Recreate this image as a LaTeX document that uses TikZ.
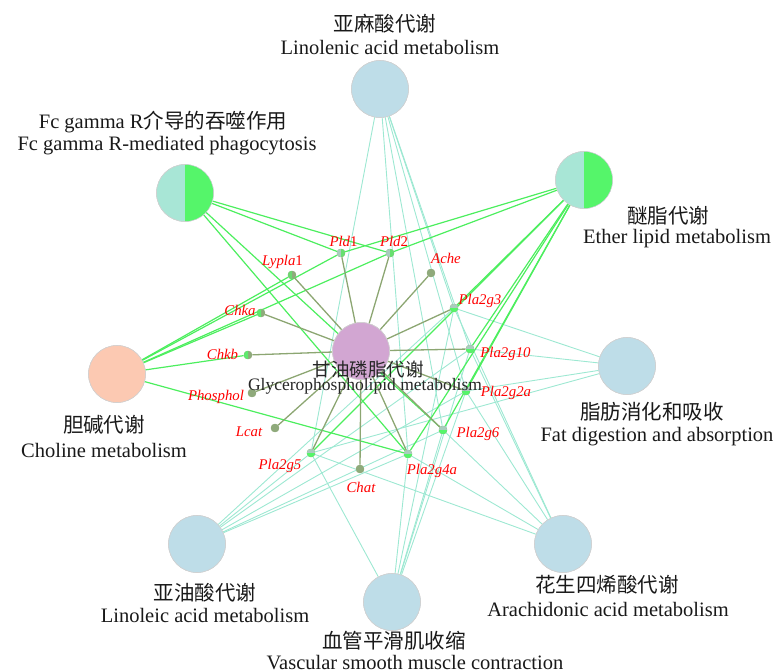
\documentclass[tikz,border=0pt]{standalone}
\usepackage{fontspec}
\setmainfont{Liberation Serif}
\newfontfamily\cjk{Noto Sans CJK SC}
\definecolor{pwblue}{HTML}{BEDDE8}
\definecolor{peach}{HTML}{FCC9B2}
\definecolor{plum}{HTML}{D2A6D2}
\definecolor{aqua}{HTML}{A8E6D6}
\definecolor{lgreen}{HTML}{55F56A}
\definecolor{olive}{HTML}{8FAA7B}
\definecolor{tgray}{HTML}{A9CCBE}
\definecolor{tealedge}{HTML}{9DE8D2}
\definecolor{greenedge}{HTML}{4CEE5E}
\definecolor{oliveedge}{HTML}{8CA672}
\newcommand\pwfs{\fontsize{20.5}{22}\selectfont}
\newcommand\cnfs{\fontsize{20.5}{22}\selectfont\cjk}
\newcommand\halfR[2]{\begin{scope}[shift={(#1.center)},yscale=-1]\fill[#2] (0,-4.2) arc[start angle=-90,end angle=90,radius=4.2] -- cycle;\end{scope}}
\newcommand\halfL[2]{\begin{scope}[shift={(#1.center)},yscale=-1]\fill[#2] (0,4.2) arc[start angle=90,end angle=270,radius=4.2] -- cycle;\end{scope}}
\newcommand\halfT[2]{\begin{scope}[shift={(#1.center)},yscale=-1]\fill[#2] (4.2,0) arc[start angle=0,end angle=180,radius=4.2] -- cycle;\end{scope}}
\newcommand\halfB[2]{\begin{scope}[shift={(#1.center)},yscale=-1]\fill[#2] (-4.2,0) arc[start angle=180,end angle=360,radius=4.2] -- cycle;\end{scope}}
\begin{document}
\begin{tikzpicture}[x=1pt,y=-1pt,
  pw/.style={circle, minimum size=57pt, inner sep=0pt, draw=black!18, line width=0.6pt, fill=pwblue},
  gene/.style={circle, minimum size=8.4pt, inner sep=0pt, fill=olive},
  glab/.style={text=red, font=\fontsize{14.8}{15}\selectfont\itshape, inner sep=0pt},
  plab/.style={font=\pwfs, inner sep=0pt, text=black!90},
  clab/.style={font=\cnfs, inner sep=0pt, text=black!90},
  te/.style={draw=tealedge, line width=0.9pt},
  ge/.style={draw=greenedge, line width=1.2pt},
  oe/.style={draw=oliveedge, line width=1.3pt}]
\useasboundingbox (0,0) rectangle (780,672);

% pathway nodes
\node[pw] (lin) at (380,89) {};
\node[pw, fill=aqua] (fc) at (185,193) {};
\node[pw, fill=aqua] (eth) at (584,180) {};
\node[pw, fill=peach] (cho) at (117,374) {};
\node[pw, fill=plum] (gly) at (361,351) {};
\node[pw] (fat) at (627,366) {};
\node[pw] (ara) at (563,544) {};
\node[pw] (lio) at (197,544) {};
\node[pw] (vas) at (392,602) {};

% gene nodes
\node[gene] (pldA) at (341,253) {};
\node[gene] (pldB) at (390,253) {};
\node[gene] (lypla) at (292,275) {};
\node[gene] (ache) at (431,273) {};
\node[gene] (gIII) at (454,308) {};
\node[gene] (chka) at (261,313) {};
\node[gene] (chkb) at (248,355) {};
\node[gene] (gX) at (470,349) {};
\node[gene] (phos) at (252,393) {};
\node[gene] (gIIa) at (466,391) {};
\node[gene] (gVI) at (443,430) {};
\node[gene] (lcat) at (275,428) {};
\node[gene] (gV) at (311,453) {};
\node[gene] (chat) at (360,469) {};
\node[gene] (gIVa) at (408,454) {};

% teal edges
\foreach \p in {lin,ara,lio,vas}
  \foreach \g in {gIII,gX,gIIa,gVI,gV,gIVa}
    \draw[te] (\p) -- (\g);
\foreach \g in {gIII,gX,gIIa,gV}
  \draw[te] (fat) -- (\g);

% green edges
\foreach \g in {pldA,pldB,gVI,gIVa}
  \draw[ge] (fc) -- (\g);
\foreach \g in {pldA,pldB,gIII,gX,gIIa,gVI,gV,gIVa}
  \draw[ge] (eth) -- (\g);
\foreach \g in {chka,chkb,lypla,pldA,pldB,gIVa}
  \draw[ge] (cho) -- (\g);

% olive edges to centre
\foreach \g in {pldA,pldB,lypla,ache,gIII,chka,chkb,gX,phos,gIIa,gVI,lcat,gV,chat,gIVa}
  \draw[oe] (gly) -- (\g);

% redraw nodes on top
\node[pw] at (lin) {};
\node[pw, fill=aqua] at (fc) {};
\node[pw, fill=aqua] at (eth) {};
\begin{scope}[shift={(fc.center)},yscale=-1]\fill[lgreen] (0,-28.2) arc[start angle=-90,end angle=90,radius=28.2] -- cycle;\end{scope}
\begin{scope}[shift={(eth.center)},yscale=-1]\fill[lgreen] (0,-28.2) arc[start angle=-90,end angle=90,radius=28.2] -- cycle;\end{scope}
\node[pw, fill=peach] at (cho) {};
\node[pw, fill=plum] at (gly) {};
\node[pw] at (fat) {};
\node[pw] at (ara) {};
\node[pw] at (lio) {};
\node[pw] at (vas) {};

\foreach \g in {pldA,pldB,lypla,ache,gIII,chka,chkb,gX,phos,gIIa,gVI,lcat,gV,chat,gIVa}
  \node[gene] at (\g) {};
\halfL{pldA}{tgray}\halfR{pldA}{lgreen!70!olive}
\halfL{pldB}{tgray}\halfR{pldB}{lgreen!70!olive}
\halfL{chka}{lgreen!85!olive}
\halfL{chkb}{lgreen!85!olive}
\halfL{lypla}{lgreen!60!olive}
\foreach \g in {gIII,gX,gIIa,gVI,gV,gIVa}{\halfT{\g}{tgray}\halfB{\g}{lgreen}}

% gene labels
\node[glab] (tpldA) at (343.5,241) {Pld\textup{1}};
\node[glab] (tpldB) at (394,241) {Pld\textup{2}};
\node[glab] (tlypla) at (282.5,262) {Lypla\textup{1}};
\node[glab] (tache) at (446,258) {Ache};
\node[glab] (tgIII) at (480,301) {Pla2g3};
\node[glab] (tchka) at (240,310) {Chka};
\node[glab] (tchkb) at (222.5,354.5) {Chkb};
\node[glab] (tgX) at (505.5,354) {Pla2g10};
\node[glab] (tphos) at (216,397) {Phosphol};
\node[glab] (tgIIa) at (506,392.5) {Pla2g2a};
\node[glab] (tgVI) at (478,434) {Pla2g6};
\node[glab] (tlcat) at (249,432) {Lcat};
\node[glab] (tgV) at (280,466) {Pla2g5};
\node[glab] (tchat) at (361,487) {Chat};
\node[glab] (tgIVa) at (432,471) {Pla2g4a};

% pathway labels
\node[clab] (clin) at (385,24) {亚麻酸代谢};
\node[plab] (elin) at (390,47) {Linolenic acid metabolism};
\node[plab] (cfc) at (163,122) {Fc gamma R{\cjk 介导的吞噬作用}};
\node[plab] (efc) at (167,146) {Fc gamma R-mediated phagocytosis};
\node[clab] (ceth) at (668,216) {醚脂代谢};
\node[plab] (eeth) at (677,239) {Ether lipid metabolism};
\node[clab] (ccho) at (104,425) {胆碱代谢};
\node[plab] (echo) at (104,450) {Choline metabolism};
\node[clab] (cfat) at (652,412) {脂肪消化和吸收};
\node[plab] (efat) at (657,437) {Fat digestion and absorption};
\node[clab] (cara) at (607,585) {花生四烯酸代谢};
\node[plab] (eara) at (608,609) {Arachidonic acid metabolism};
\node[clab] (clio) at (205,593) {亚油酸代谢};
\node[plab] (elio) at (205,615) {Linoleic acid metabolism};
\node[clab] (cvas) at (394,641) {血管平滑肌收缩};
\node[plab] (evas) at (415,663) {Vascular smooth muscle contraction};
\node[font=\fontsize{18.5}{19}\selectfont\cjk, inner sep=0pt, text=black!85] (cgly) at (368,369) {甘油磷脂代谢};
\node[font=\fontsize{17.5}{18}\selectfont, inner sep=0pt, text=black!85] (egly) at (365,386) {Glycerophospholipid metabolism};
\end{tikzpicture}
\end{document}
